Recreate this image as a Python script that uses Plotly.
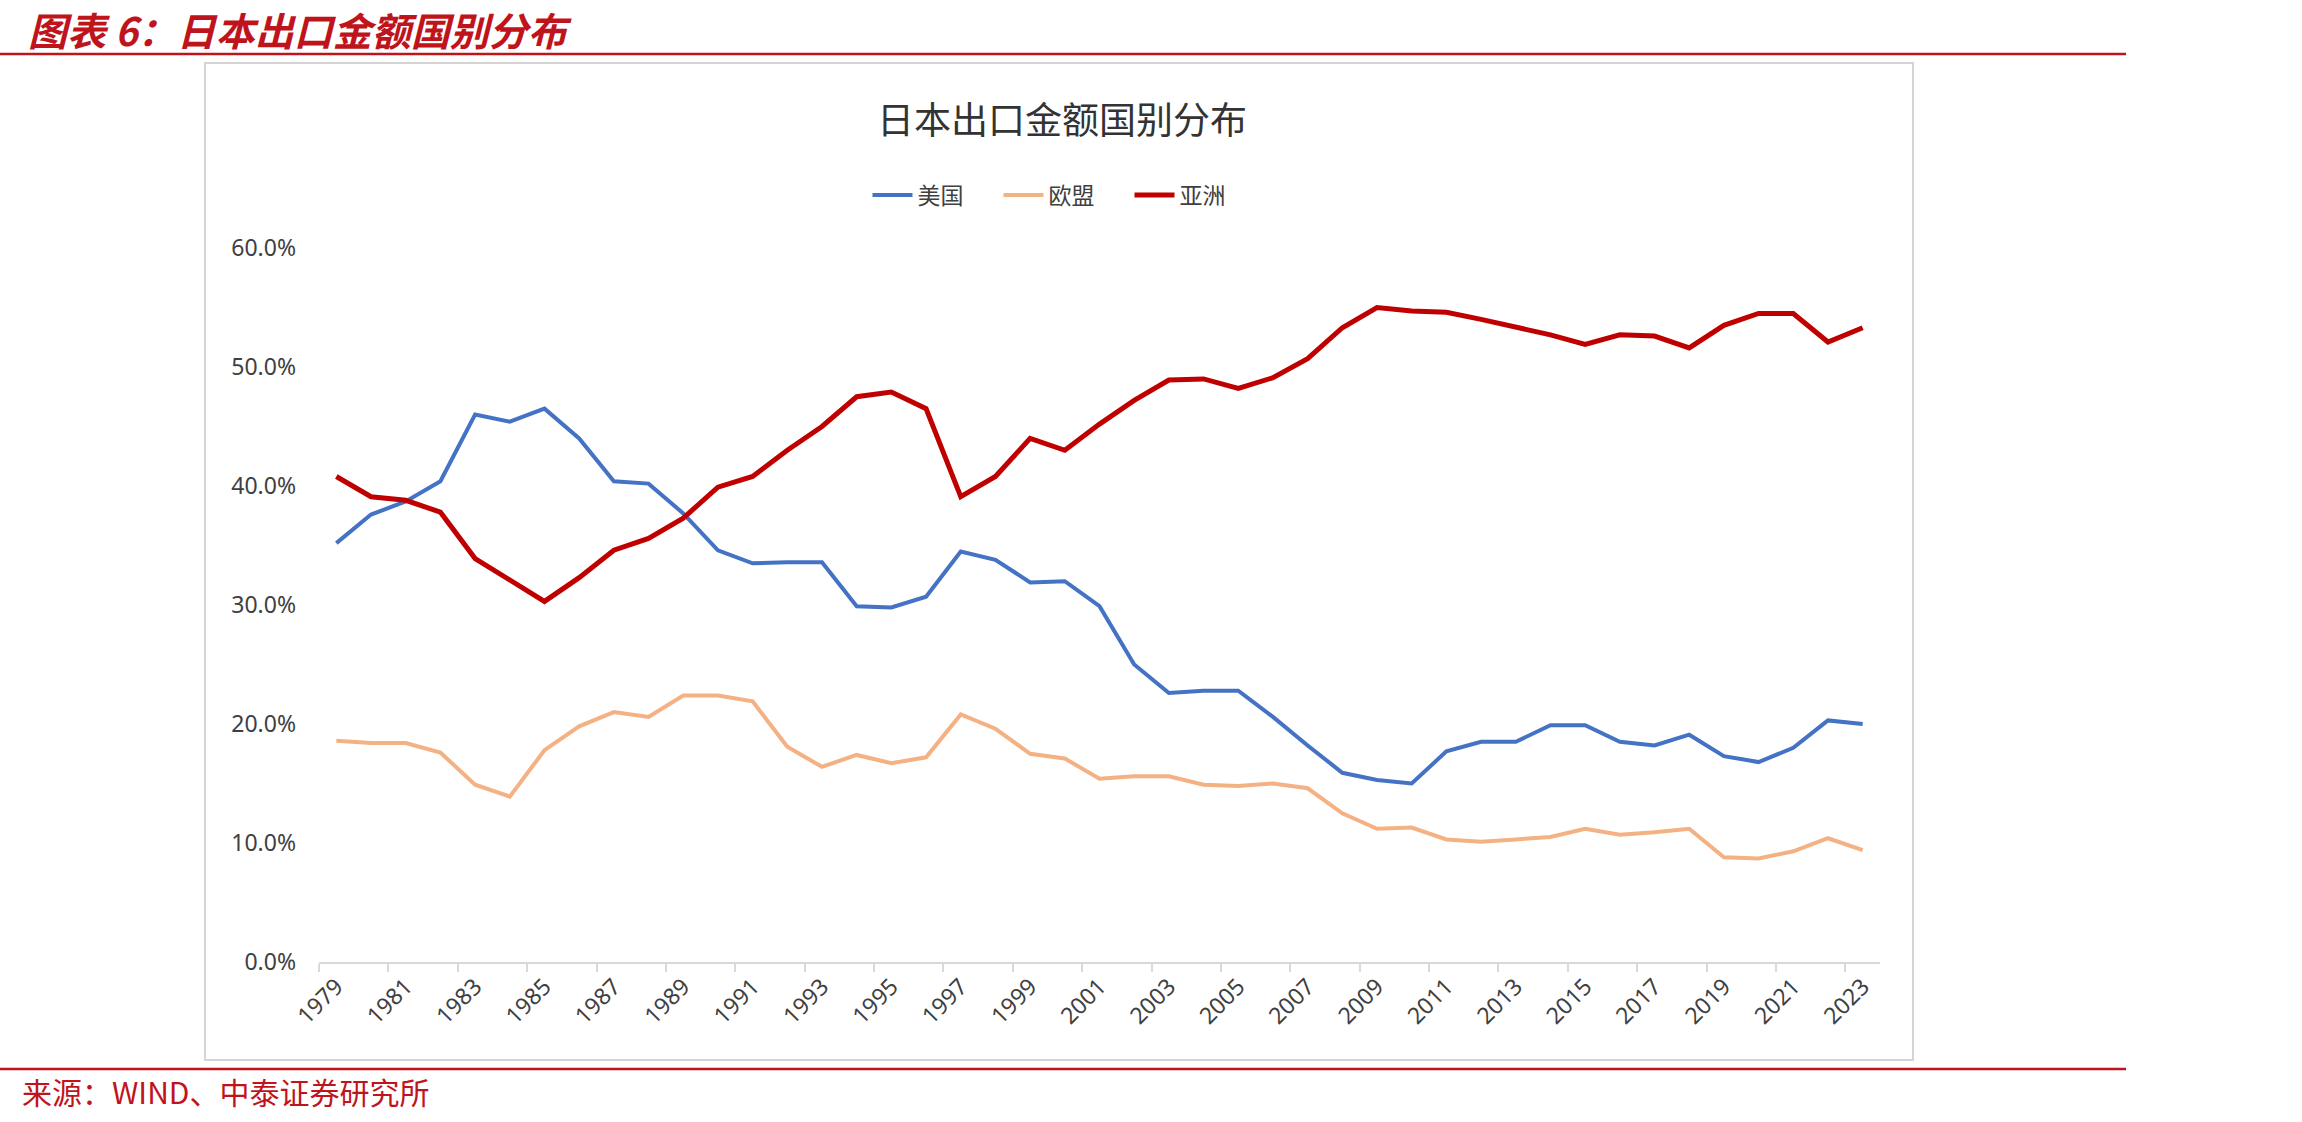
import plotly.graph_objects as go

years = [str(y) for y in range(1979, 2024)]
usa = [35.2, 37.6, 38.7, 40.4, 46.0, 45.4, 46.5, 44.0, 40.4, 40.2,
       37.7, 34.6, 33.5, 33.6, 33.6, 29.9, 29.8, 30.7, 34.5, 33.8,
       31.9, 32.0, 29.9, 25.0, 22.6, 22.8, 22.8, 20.6, 18.2, 15.9,
       15.3, 15.0, 17.7, 18.5, 18.5, 19.9, 19.9, 18.5, 18.2, 19.1,
       17.3, 16.8, 18.0, 20.3, 20.0]
eu = [18.6, 18.4, 18.4, 17.6, 14.9, 13.9, 17.8, 19.8, 21.0, 20.6,
      22.4, 22.4, 21.9, 18.1, 16.4, 17.4, 16.7, 17.2, 20.8, 19.6,
      17.5, 17.1, 15.4, 15.6, 15.6, 14.9, 14.8, 15.0, 14.6, 12.5,
      11.2, 11.3, 10.3, 10.1, 10.3, 10.5, 11.2, 10.7, 10.9, 11.2,
      8.8, 8.7, 9.3, 10.4, 9.4]
asia = [40.8, 39.1, 38.8, 37.8, 33.9, 32.1, 30.3, 32.3, 34.6, 35.6,
        37.3, 39.9, 40.8, 43.0, 45.0, 47.5, 47.9, 46.5, 39.1, 40.8,
        44.0, 43.0, 45.2, 47.2, 48.9, 49.0, 48.2, 49.1, 50.7, 53.3,
        55.0, 54.7, 54.6, 54.0, 53.4, 52.7, 51.9, 52.7, 52.6, 51.6,
        53.5, 54.5, 54.5, 52.1, 53.3]
series_names = ["美国", "欧盟", "亚洲"]
series_colors = ["#4472C4", "#F4B183", "#C00000"]
series_widths = [4, 4, 5]

W_FIG, H_FIG = 2302, 1122
L, R_PX, T_PX, B_PX = 319, 1880, 248, 962
PW, PH = R_PX - L, B_PX - T_PX


def px(x):
    return (x - L) / PW


def py(y):
    return (B_PX - y) / PH


fig = go.Figure()
for name, vals, col, w in zip(series_names, [usa, eu, asia], series_colors, series_widths):
    fig.add_trace(go.Scatter(x=years, y=vals, mode="lines", name=name,
                             line=dict(color=col, width=w)))

tick_font = dict(family="Noto Sans, Open Sans, sans-serif", size=23, color="#404040")

fig.update_layout(
    width=W_FIG, height=H_FIG,
    margin=dict(l=L, r=W_FIG - R_PX, t=T_PX, b=H_FIG - B_PX, autoexpand=False),
    paper_bgcolor="white", plot_bgcolor="white",
    showlegend=True,
    legend=dict(orientation="h", x=px(1064), xanchor="center", y=py(195), yanchor="middle",
                font=dict(family="Noto Sans CJK SC", size=23, color="#404040"),
                entrywidth=76, entrywidthmode="pixels", itemwidth=40,
                bgcolor="rgba(0,0,0,0)"),
    xaxis=dict(type="category", range=[-0.5, len(years) - 0.5], dtick=2,
               tickson="boundaries", ticks="outside", ticklen=8, tickcolor="#d9d9d9",
               tickwidth=2, showline=True, linecolor="#d9d9d9", linewidth=2,
               showgrid=False, tickangle=-45,
               tickfont=dict(family="Noto Sans, sans-serif", size=23, color="#404040")),
    yaxis=dict(range=[0, 60], tick0=0, dtick=10, tickformat=".1f", ticksuffix="%",
               showgrid=False, zeroline=False, showline=False, tickfont=tick_font,
               ticklabelstandoff=22),
)

shapes = [
    # chart frame
    dict(type="rect", xref="paper", yref="paper", x0=px(205), x1=px(1913), y0=py(63), y1=py(1060),
         line=dict(color="#d4d4d4", width=2), fillcolor="rgba(0,0,0,0)", layer="below"),
    # red rules
    dict(type="line", xref="paper", yref="paper", x0=px(0), x1=px(2126), y0=py(54), y1=py(54),
         line=dict(color="#C0141C", width=2.5)),
    dict(type="line", xref="paper", yref="paper", x0=px(0), x1=px(2126), y0=py(1069), y1=py(1069),
         line=dict(color="#C0141C", width=2.5)),
]
fig.update_layout(shapes=shapes)

annotations = [
    dict(text="图表 6：日本出口金额国别分布", x=px(26), y=py(29), xref="paper", yref="paper",
         xanchor="left", yanchor="middle", showarrow=False,
         font=dict(family="Noto Sans CJK SC", size=39, color="#C0141C", weight="bold", style="italic")),
    dict(text="日本出口金额国别分布", x=px(1062), y=py(118), xref="paper", yref="paper",
         xanchor="center", yanchor="middle", showarrow=False,
         font=dict(family="Noto Sans CJK SC", size=37, color="#333333")),
    dict(text="来源：WIND、中泰证券研究所", x=px(20), y=py(1091), xref="paper", yref="paper",
         xanchor="left", yanchor="middle", showarrow=False,
         font=dict(family="Noto Sans CJK SC", size=30, color="#C0141C")),
]
fig.update_layout(annotations=annotations)

fig.write_html("out.html")
